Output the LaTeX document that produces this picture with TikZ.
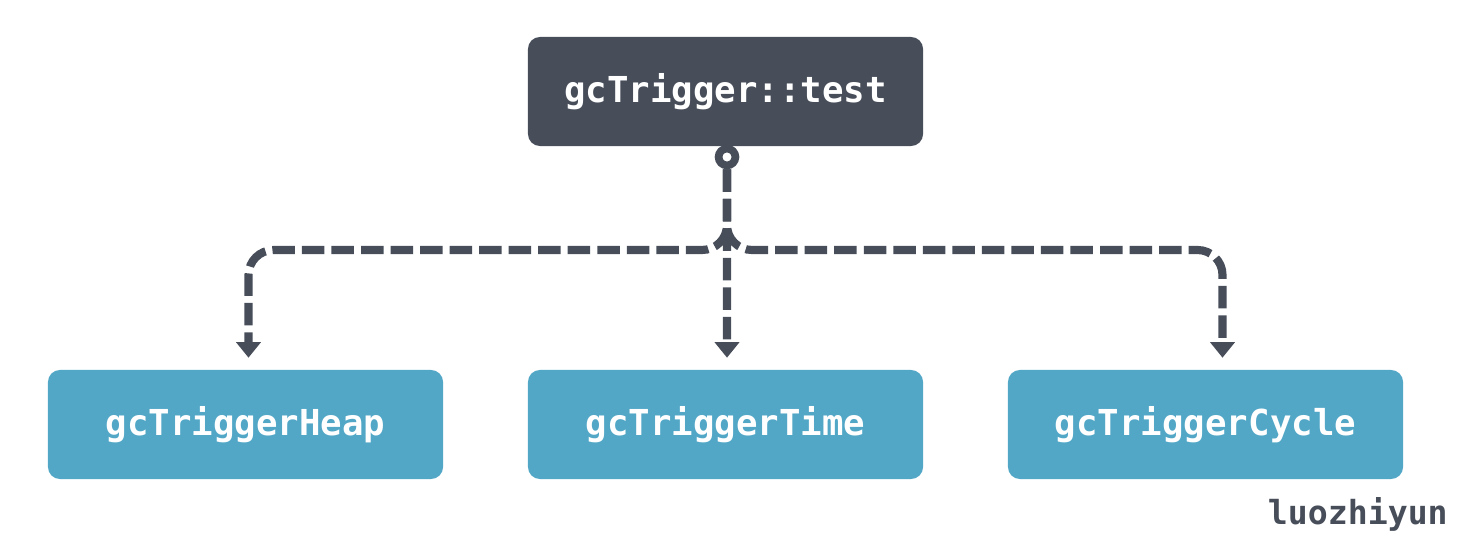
\documentclass[tikz,border=0pt]{standalone}
\usepackage{fontspec}
\setmonofont{DejaVu Sans Mono}
\usetikzlibrary{arrows.meta}
\definecolor{rootgray}{HTML}{474E5A}
\definecolor{leafblue}{HTML}{52A7C7}

\begin{document}
\begin{tikzpicture}[x=0.025cm,y=-0.025cm,>={Triangle[width=17pt,length=11pt]},
    box/.style={rounded corners=0.3cm,minimum width=9.875cm,minimum height=2.725cm,
      text=white,font=\ttfamily\bfseries\fontsize{25.4}{30}\selectfont},
    link/.style={draw=rootgray,line width=5.8pt,dash pattern=on 16pt off 5pt,
      rounded corners=0.625cm,shorten >=0.3cm}]
            \useasboundingbox (0,0) rectangle (1461,537);

            \node [box, fill=rootgray] (test) at (725.5,91.5) {gcTrigger::test};
            \node [box, fill=leafblue] (heap) at (245.5,424.5) {gcTriggerHeap};
            \node [box, fill=leafblue] (time) at (725.5,424.5) {gcTriggerTime};
            \node [box, fill=leafblue] (cycle) at (1205.5,424.5) {gcTriggerCycle};
            \node [draw=rootgray, circle, fill=white, line width=5.5pt, minimum size=0.42cm, inner sep=0] (hub) at (727,157) {};

            \draw [link,->] (hub) -- (727,250) -| ([xshift=0.075cm]heap.north);
            \draw [link,->] (hub) -- (727,250) -| ([xshift=0.425cm]cycle.north);
            \draw [link,->] (hub) -- ([xshift=0.0375cm]time.north);

            \node [anchor=east, inner sep=0, text=rootgray, font=\ttfamily\bfseries\fontsize{23.6}{28}\selectfont] (author) at (1448,514) {luozhiyun};

        \end{tikzpicture}
\end{document}
